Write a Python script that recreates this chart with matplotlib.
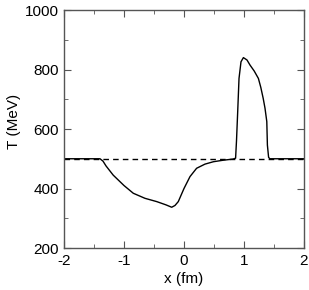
import matplotlib
matplotlib.use('Agg')
import matplotlib.pyplot as plt
from matplotlib.ticker import MultipleLocator

plt.rcParams['font.family'] = ['Liberation Sans', 'DejaVu Sans']
plt.rcParams['axes.unicode_minus'] = False

# temperature profile
x_fm = [-2.0, -1.4, -1.35, -1.3, -1.18, -1.0, -0.845, -0.65, -0.455, -0.3, -0.205,
        -0.15, -0.095, 0.0, 0.1, 0.21, 0.35, 0.49, 0.65, 0.82, 0.86, 0.875, 0.895,
        0.917, 0.95, 0.99, 1.05, 1.1, 1.17, 1.24, 1.28, 1.32, 1.35, 1.38, 1.39,
        1.41, 1.43, 2.0]
T_mev = [500, 500, 492, 476, 445, 410, 384, 367, 356, 345, 337,
         343, 356, 400, 440, 468, 482, 490, 495, 499, 502, 560, 658,
         770, 826, 840, 832, 815, 795, 770, 740, 703, 670, 625, 546,
         505, 500, 500]
T_ref = 500

fig = plt.figure(figsize=(3.09, 2.90), dpi=100)
ax = fig.add_axes([0.2071, 0.1448, 0.7767, 0.8207])

ax.axhline(T_ref, color='black', linestyle=(0, (4, 3)), linewidth=1.0)
ax.plot(x_fm, T_mev, color='black', linewidth=1.0)

ax.set_xlim(-2, 2)
ax.set_ylim(200, 1000)
ax.xaxis.set_major_locator(MultipleLocator(1))
ax.xaxis.set_minor_locator(MultipleLocator(0.5))
ax.yaxis.set_major_locator(MultipleLocator(200))
ax.yaxis.set_minor_locator(MultipleLocator(100))
ax.tick_params(which='both', direction='in', top=True, right=True, color='#555555',
               labelsize=11)
ax.tick_params(axis='x', pad=4.5)
ax.tick_params(axis='y', pad=3.5)
ax.tick_params(which='major', length=5)
ax.tick_params(which='minor', length=3)
for s in ax.spines.values():
    s.set_color('#555555')
    s.set_linewidth(1.0)

ax.set_xlabel('x (fm)', fontsize=11, labelpad=3)
ax.set_ylabel('T (MeV)', fontsize=11)
ax.yaxis.set_label_coords(-0.18, 0.53)

fig.savefig('out.png', dpi=100)
